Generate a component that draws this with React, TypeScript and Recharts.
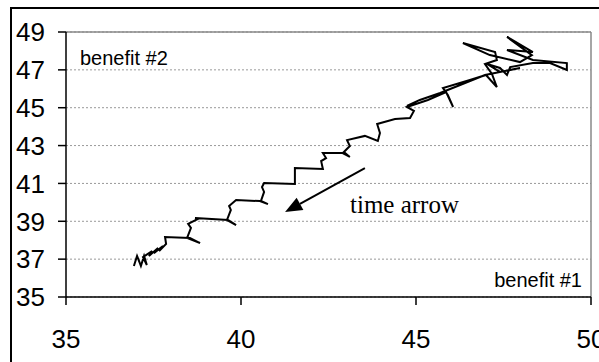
import { CartesianGrid, Line, LineChart, ReferenceLine, XAxis, YAxis } from "recharts";

// trajectory (benefit #1, benefit #2)
const pathX = [
  36.94, 37.03, 37.14, 37.23, 37.31, 37.2, 37.46, 37.37, 37.63, 37.51, 37.77, 37.66, 37.86,
  37.83, 38.54, 38.83, 38.46, 38.57, 38.49, 38.77, 38.69, 39.63, 39.86, 39.6, 39.71, 39.66,
  39.86, 40.54, 40.77, 40.57, 40.66, 40.6, 40.66, 41.54, 41.54, 42.34, 42.29, 42.43, 42.34,
  42.89, 43.11, 42.94, 43.11, 43.03, 43.54, 43.91, 43.97, 43.89, 44.4, 44.83, 44.94, 44.74,
  45.34, 45.86, 46.06, 45.91, 45.77, 46.54, 47.0, 47.31, 47.17, 46.97, 47.31, 47.26, 46.34,
  47.11, 47.97, 48.31, 47.6, 48.34, 47.6, 48.34, 49.31, 49.31, 48.83, 48.34, 47.69, 47.6,
  47.4, 47.03, 47.4, 47.97, 46.97, 46.26, 45.69, 45.11, 44.74,
];
const pathY = [
  36.64, 37.17, 36.64, 37.17, 36.69, 37.11, 37.43, 37.17, 37.59, 37.32, 37.69, 37.43, 37.8,
  38.17, 38.12, 37.85, 38.12, 38.65, 38.86, 39.12, 39.17, 39.07, 38.8, 39.07, 39.6, 39.81,
  40.12, 40.07, 39.91, 40.07, 40.55, 40.81, 41.02, 40.97, 41.81, 41.76, 42.18, 42.34, 42.61,
  42.61, 42.4, 42.66, 42.98, 43.29, 43.51, 43.24, 43.66, 44.14, 44.4, 44.46, 44.83, 45.04,
  45.41, 45.83, 45.04, 45.67, 46.04, 46.46, 46.73, 46.09, 46.78, 47.31, 47.52, 47.94, 48.42,
  47.78, 47.41, 47.78, 48.74, 47.94, 48.05, 47.52, 47.36, 46.99, 47.36, 47.36, 47.15, 46.73,
  47.1, 47.31, 46.89, 47.1, 46.73, 46.2, 45.78, 45.41, 45.09,
];

const xTicks = [35, 40, 45, 50];
const yTicks = [35, 37, 39, 41, 43, 45, 47, 49];

// "time arrow" annotation, in data units
const arrowFrom = { x: 43.54, y: 41.81 };
const arrowTo = { x: 41.26, y: 39.49 };

const data = pathX.map((x, i) => ({ x, y: pathY[i] }));

const sans = "Arial, 'Liberation Sans', sans-serif";

function ArrowShape(props: any) {
  const { x1, y1, x2, y2 } = props;
  const dx = x2 - x1;
  const dy = y2 - y1;
  const len = Math.sqrt(dx * dx + dy * dy) || 1;
  const ux = dx / len;
  const uy = dy / len;
  const headLen = 17;
  const headHalf = 7;
  const bx = x2 - ux * headLen;
  const by = y2 - uy * headLen;
  const pts = `${x2},${y2} ${bx - uy * headHalf},${by + ux * headHalf} ${bx + uy * headHalf},${by - ux * headHalf}`;
  return (
    <g>
      <line x1={x1} y1={y1} x2={bx} y2={by} stroke="#000" strokeWidth={2} />
      <polygon points={pts} fill="#000" />
    </g>
  );
}

export default function App() {
  return (
    <div style={{ position: "fixed", left: 0, top: 0, width: 599, height: 362, overflow: "hidden", background: "#fff" }}>
      <div
        style={{
          position: "absolute",
          left: 10,
          top: 7,
          width: 640,
          height: 400,
          border: "2px solid #000",
        }}
      />
      <div style={{ position: "absolute", left: 0, top: 0 }}>
        <LineChart width={599} height={362} data={data} margin={{ top: 32, right: 8, bottom: 0, left: 0 }}>
          <CartesianGrid horizontal vertical={false} stroke="#999" strokeDasharray="2 2" />
          <XAxis
            type="number"
            dataKey="x"
            domain={[35, 50]}
            ticks={xTicks}
            interval={0}
            height={65}
            tickSize={8}
            tickMargin={25}
            axisLine={{ stroke: "#000", strokeWidth: 1.5 }}
            tickLine={{ stroke: "#000", strokeWidth: 1.5 }}
            tick={{ fill: "#000", fontSize: 26, fontFamily: sans }}
          />
          <YAxis
            type="number"
            dataKey="y"
            domain={[35, 49]}
            ticks={yTicks}
            interval={0}
            width={66}
            tickSize={8}
            tickMargin={13}
            axisLine={{ stroke: "#000", strokeWidth: 1.5 }}
            tickLine={{ stroke: "#000", strokeWidth: 1.5 }}
            tick={{ fill: "#000", fontSize: 26, fontFamily: sans }}
          />
          <ReferenceLine y={49} stroke="#888" strokeWidth={1.5} />
          <ReferenceLine x={50} stroke="#888" strokeWidth={1.5} />
          <ReferenceLine segment={[arrowFrom, arrowTo]} shape={ArrowShape} />
          <Line
            type="linear"
            dataKey="y"
            stroke="#000"
            strokeWidth={2}
            strokeLinejoin="miter"
            dot={false}
            activeDot={false}
            isAnimationActive={false}
          />
        </LineChart>
      </div>
      <div style={{ position: "absolute", left: 80, top: 48, fontFamily: sans, fontSize: 20, lineHeight: "20px", whiteSpace: "nowrap" }}>
        benefit #2
      </div>
      <div style={{ position: "absolute", right: 17, top: 270, fontFamily: sans, fontSize: 20, lineHeight: "20px", whiteSpace: "nowrap" }}>
        benefit #1
      </div>
      <div
        style={{
          position: "absolute",
          left: 350,
          top: 192,
          fontFamily: "'Times New Roman', 'Liberation Serif', serif",
          fontSize: 25,
          lineHeight: "25px",
          whiteSpace: "nowrap",
        }}
      >
        time arrow
      </div>
    </div>
  );
}
